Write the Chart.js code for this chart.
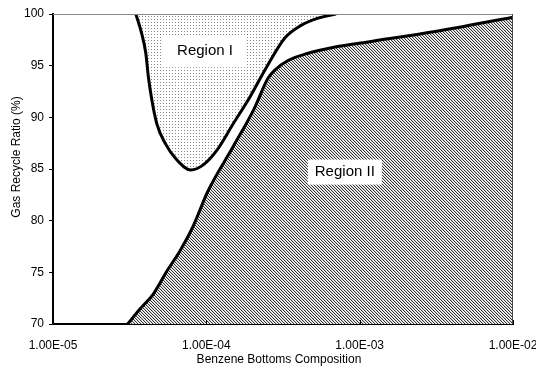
<!DOCTYPE html>
<html>
<head>
<meta charset="utf-8">
<script src="https://cdn.jsdelivr.net/npm/chart.js@4"></script>
<style>
  html, body { margin: 0; padding: 0; background: #fff; }
  #wrap { width: 536px; height: 368px; }
</style>
</head>
<body>
<div id="wrap"><canvas id="grafico" width="536" height="368"></canvas></div>
<script>
// curve of region I (upper, dotted)
const regionIX = [3.47e-5, 3.79e-5, 4.03e-5, 4.19e-5, 4.41e-5, 4.75e-5, 5.38e-5, 6.41e-5, 7.91e-5,
  9.55e-5, 1.17e-4, 1.50e-4, 1.93e-4, 2.48e-4, 3.26e-4, 4.15e-4, 5.36e-4, 7.01e-4];
const regionIY = [100, 98.1, 96.2, 93.9, 91.7, 89.4, 87.5, 85.9, 84.9,
  85.4, 86.8, 89.4, 92.0, 94.9, 97.7, 98.9, 99.6, 100];

// curve of region II (lower, hatched)
const regionIIX = [3.07e-5, 3.69e-5, 4.51e-5, 5.52e-5, 6.74e-5, 8.22e-5, 1.02e-4, 1.50e-4,
  2.03e-4, 2.53e-4, 2.81e-4, 3.41e-4, 4.61e-4, 6.91e-4, 1.135e-3, 3.10e-3, 1.0e-2];
const regionIIY = [70, 71.45, 72.9, 75.1, 77.1, 79.5, 82.8, 87.2,
  90.7, 93.8, 94.6, 95.5, 96.2, 96.8, 97.3, 98.3, 99.7];

const xTicks = [1e-5, 1e-4, 1e-3, 1e-2];
const xTickLabels = ["1.00E-05", "1.00E-04", "1.00E-03", "1.00E-02"];
const yTicks = [70, 75, 80, 85, 90, 95, 100];

const regionLabels = ["Region I", "Region II"];
const regionLabelX = [9.8e-5, 8.0e-4];
const regionLabelY = [96.4, 84.7];

function toPoints(xs, ys) {
  return xs.map((x, i) => ({ x: x, y: ys[i] }));
}

// fill patterns
function patronPuntos() {
  const c = document.createElement("canvas");
  c.width = 3; c.height = 3;
  const g = c.getContext("2d");
  g.fillStyle = "#fff";
  g.fillRect(0, 0, 3, 3);
  g.fillStyle = "#8a8a8a";
  g.fillRect(1, 1, 1, 1);
  return g.createPattern(c, "repeat");
}
function patronRayas() {
  const c = document.createElement("canvas");
  c.width = 3; c.height = 3;
  const g = c.getContext("2d");
  g.fillStyle = "#fff";
  g.fillRect(0, 0, 3, 3);
  g.fillStyle = "#333";
  for (let i = 0; i < 3; i++) g.fillRect(i, i, 1, 1);
  g.fillStyle = "#cfcfcf";
  for (let i = 0; i < 3; i++) g.fillRect((i + 1) % 3, i, 1, 1);
  return g.createPattern(c, "repeat");
}

const FONT = "'Liberation Sans', Arial, sans-serif";

const extras = {
  id: "extras",
  afterDatasetsDraw(chart) {
    const { ctx, chartArea, scales } = chart;
    ctx.save();
    // frame top / right
    ctx.strokeStyle = "#888";
    ctx.lineWidth = 1;
    ctx.beginPath();
    ctx.moveTo(chartArea.left, chartArea.top + 0.5);
    ctx.lineTo(chartArea.right, chartArea.top + 0.5);
    ctx.stroke();
    ctx.strokeStyle = "#444";
    ctx.beginPath();
    ctx.moveTo(chartArea.right - 0.5, chartArea.top);
    ctx.lineTo(chartArea.right - 0.5, chartArea.bottom);
    ctx.stroke();

    // x ticks point inward
    ctx.strokeStyle = "#000";
    xTicks.forEach(v => {
      const px = Math.round(scales.x.getPixelForValue(v)) + 0.5;
      ctx.beginPath();
      ctx.moveTo(px, chartArea.bottom);
      ctx.lineTo(px, chartArea.bottom - 4);
      ctx.stroke();
    });

    // region labels with white box
    ctx.font = "15px " + FONT;
    ctx.textAlign = "center";
    ctx.textBaseline = "middle";
    const boxes = [{ w: 84, h: 32 }, { w: 74, h: 25 }];
    regionLabels.forEach((txt, i) => {
      const cx = scales.x.getPixelForValue(regionLabelX[i]);
      const cy = scales.y.getPixelForValue(regionLabelY[i]);
      ctx.fillStyle = "#fff";
      ctx.fillRect(cx - boxes[i].w / 2, cy - boxes[i].h / 2, boxes[i].w, boxes[i].h);
      ctx.fillStyle = "#000";
      ctx.fillText(txt, cx, cy);
    });

    // axis titles
    ctx.font = "12px " + FONT;
    ctx.fillStyle = "#000";
    ctx.fillText("Benzene Bottoms Composition", 279, 360);
    ctx.translate(17, 157);
    ctx.rotate(-Math.PI / 2);
    ctx.fillText("Gas Recycle Ratio (%)", 0, 0);
    ctx.restore();
  }
};

const ctx = document.getElementById("grafico").getContext("2d");
const grafico = new Chart(ctx, {
  type: "line",
  data: {
    datasets: [
      {
        label: "Region II",
        data: toPoints(regionIIX, regionIIY),
        borderColor: "#000",
        borderWidth: 3,
        pointRadius: 0,
        cubicInterpolationMode: "monotone",
        fill: "start",
        backgroundColor: patronRayas()
      },
      {
        label: "Region I",
        data: toPoints(regionIX, regionIY),
        borderColor: "#000",
        borderWidth: 3,
        pointRadius: 0,
        cubicInterpolationMode: "monotone",
        fill: "end",
        backgroundColor: patronPuntos()
      }
    ]
  },
  options: {
    responsive: false,
    animation: false,
    layout: { padding: { top: 14, right: 23, left: 0, bottom: 0 } },
    plugins: { legend: { display: false }, tooltip: { enabled: false } },
    scales: {
      x: {
        type: "logarithmic",
        min: 1e-5,
        max: 1e-2,
        afterBuildTicks: s => { s.ticks = xTicks.map(v => ({ value: v })); },
        afterFit: s => { s.height = 44; s.paddingLeft = 0; s.paddingRight = 0; },
        ticks: {
          autoSkip: false,
          maxRotation: 0,
          padding: 6,
          color: "#000",
          font: { family: FONT, size: 12 },
          callback: (v) => xTickLabels[xTicks.indexOf(v)] || ""
        },
        grid: { display: false },
        border: { display: true, color: "#000", width: 2 }
      },
      y: {
        type: "linear",
        min: 70,
        max: 100,
        afterBuildTicks: s => { s.ticks = yTicks.map(v => ({ value: v })); },
        afterFit: s => { s.width = 53; },
        ticks: {
          padding: 5,
          color: "#000",
          font: { family: FONT, size: 12 }
        },
        grid: { drawOnChartArea: false, drawTicks: true, tickLength: 4, tickColor: "#000" },
        border: { display: true, color: "#000", width: 2 }
      }
    }
  },
  plugins: [extras]
});
</script>
</body>
</html>
